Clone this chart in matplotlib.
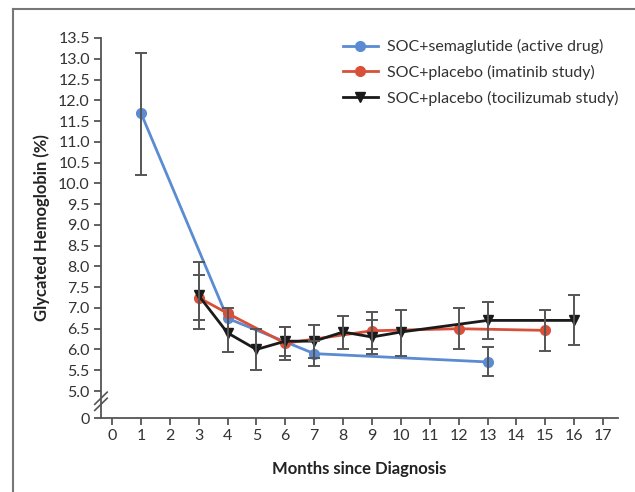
import numpy as np
import matplotlib
matplotlib.use("Agg")
import matplotlib.pyplot as plt
from matplotlib.lines import Line2D

plt.rcParams['font.family'] = ['Lato', 'DejaVu Sans']

# semaglutide (active drug)
sema_x = [1, 4, 7, 13]
sema_y = [11.7, 6.75, 5.9, 5.7]
sema_lo = [10.2, np.nan, 5.6, 5.35]
sema_hi = [13.15, np.nan, 6.2, 6.05]

# placebo, imatinib study
imat_x = [3, 4, 6, 9, 12, 15]
imat_y = [7.25, 6.87, 6.15, 6.45, 6.5, 6.46]
imat_lo = [6.7, np.nan, 5.75, 6.0, 6.0, 5.97]
imat_hi = [7.8, np.nan, 6.55, 6.9, 7.0, 6.95]

# placebo, tocilizumab study
toci_x = [3, 4, 5, 6, 7, 8, 9, 10, 13, 16]
toci_y = [7.3, 6.4, 6.0, 6.2, 6.2, 6.42, 6.3, 6.42, 6.7, 6.7]
toci_lo = [6.5, 5.95, 5.5, 5.85, 5.8, 6.0, 5.9, 5.85, 6.25, 6.1]
toci_hi = [8.1, 7.0, 6.5, 6.55, 6.6, 6.8, 6.7, 6.95, 7.15, 7.32]

labels = ["SOC+semaglutide (active drug)",
          "SOC+placebo (imatinib study)",
          "SOC+placebo (tocilizumab study)"]
colors = ["#5b8bd3", "#d8503a", "#1a1a1a"]

y_ticks = [5.0 + 0.5 * i for i in range(18)]
x_ticks = list(range(18))
y_zero = 4.35  # where the broken axis puts "0"

fig = plt.figure(figsize=(6.35, 4.92), dpi=100)
ax = fig.add_axes([0.159, 0.1504, 0.814, 0.7724])

gray = "#555555"
series = [(sema_x, sema_y, sema_lo, sema_hi, 'o', 7),
          (imat_x, imat_y, imat_lo, imat_hi, 'o', 7),
          (toci_x, toci_y, toci_lo, toci_hi, 'v', 7)]

for (x, y, lo, hi, mk, ms), c in zip(series, colors):
    ax.plot(x, y, color=c, lw=2, marker=mk, ms=ms, zorder=2)
    x = np.array(x, float)
    y = np.array(y, float)
    lo = np.array(lo, float)
    hi = np.array(hi, float)
    ok = np.isfinite(lo)
    ax.errorbar(x[ok], y[ok], yerr=[y[ok] - lo[ok], hi[ok] - y[ok]],
                fmt='none', ecolor=gray, elinewidth=1.4, capsize=4,
                capthick=1.4, zorder=3)

ax.set_xlim(-0.38, 17.51)
ax.set_ylim(y_zero, 13.5)
ax.set_xticks(x_ticks)
ax.set_yticks([y_zero] + y_ticks)
ax.set_yticklabels(["0"] + ["%.1f" % v for v in y_ticks])

for s in ['top', 'right']:
    ax.spines[s].set_visible(False)
for s in ['left', 'bottom']:
    ax.spines[s].set_color(gray)
    ax.spines[s].set_linewidth(1.3)
ax.tick_params(direction='out', length=5, width=1.3, color=gray,
               labelsize=11.5, labelcolor="#333333", pad=3)

# axis break marks ("//" on the y spine)
for yc in (0.036, 0.052):
    ax.plot([-0.012, 0.012], [yc - 0.016, yc + 0.016],
            transform=ax.transAxes, color=gray, lw=1.2, clip_on=False)

ax.set_ylabel("Glycated Hemoglobin (%)", fontsize=12, fontweight='bold',
              color="#222222", labelpad=6)
ax.set_xlabel("Months since Diagnosis", fontsize=12, fontweight='bold',
              color="#222222", labelpad=13)

handles = [Line2D([], [], color=colors[0], lw=2, marker='o', ms=7),
           Line2D([], [], color=colors[1], lw=2, marker='o', ms=7),
           Line2D([], [], color=colors[2], lw=2, marker='v', ms=7)]
ax.legend(handles, labels, loc='upper left', bbox_to_anchor=(0.44, 1.035),
          frameon=False, fontsize=11.5, handlelength=2.2, labelspacing=0.68,
          handletextpad=0.55, labelcolor="#333333")

# outer frame
frame_kw = dict(transform=fig.transFigure, color="#777777", lw=1.5)
fig.add_artist(Line2D([13 / 635, 13 / 635], [0, 1 - 9 / 492], **frame_kw))
fig.add_artist(Line2D([13 / 635, 1], [1 - 9 / 492, 1 - 9 / 492], **frame_kw))

fig.savefig("out.png", dpi=100)
